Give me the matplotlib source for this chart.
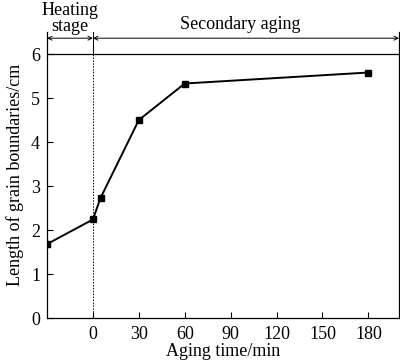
import matplotlib
matplotlib.use("Agg")
from matplotlib import pyplot as plt

# data
time_min = [-30, 0, 5, 30, 60, 180]
length_cm = [1.68, 2.24, 2.73, 4.5, 5.33, 5.58]
x_ticks = [0, 30, 60, 90, 120, 150, 180]
y_ticks = [0, 1, 2, 3, 4, 5, 6]

plt.rcParams['font.family'] = ['Liberation Serif', 'DejaVu Serif']
plt.rcParams['font.size'] = 13

fig = plt.figure(figsize=(4.0, 3.62), dpi=100)
ax = fig.add_axes([0.1175, 0.1215, 0.88, 0.79])

ax.plot(time_min, length_cm, color='black', lw=1.4, marker='s', ms=5)

# stage separators
ax.axhline(6, color='black', lw=0.9)
ax.plot([0, 0], [0, 6], color='black', lw=0.7, ls=(0, (1.5, 1.5)))
ax.plot([0, 0], [6, 6.5], color='black', lw=0.7)
ax.annotate('', xy=(-30, 6.36), xytext=(0, 6.36),
            arrowprops=dict(arrowstyle='<->', lw=0.7, shrinkA=0, shrinkB=0,
                            mutation_scale=7))
ax.annotate('', xy=(0, 6.36), xytext=(200, 6.36),
            arrowprops=dict(arrowstyle='<->', lw=0.7, shrinkA=0, shrinkB=0,
                            mutation_scale=7))
ax.text(-15, 6.44, 'Heating\nstage', ha='center', va='bottom',
        linespacing=0.9, clip_on=False)
ax.text(96, 6.48, 'Secondary aging', ha='center', va='bottom', clip_on=False)

ax.set_xlim(-30, 200)
ax.set_ylim(0, 6.5)
ax.set_xticks(x_ticks)
ax.set_yticks(y_ticks)
ax.tick_params(direction='in', length=4, width=0.8, pad=5)
ax.tick_params(axis='x', pad=6)
ax.spines['top'].set_visible(False)
for s in ['left', 'right', 'bottom']:
    ax.spines[s].set_linewidth(0.9)

ax.set_xlabel('Aging time/min', labelpad=0)
ax.set_ylabel('Length of grain boundaries/cm', labelpad=5)

fig.savefig('out.png', dpi=100)
